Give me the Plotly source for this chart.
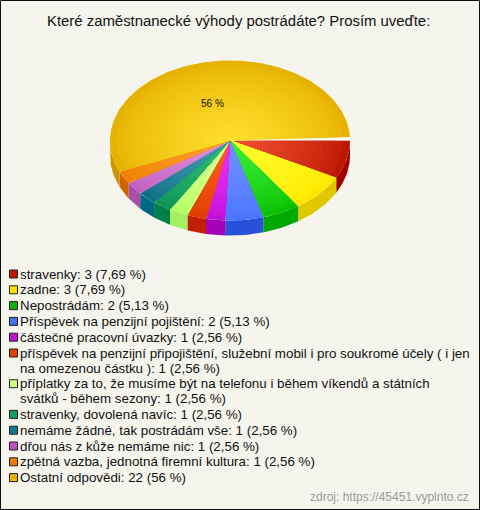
import math
import plotly.graph_objects as go

title_text = "Které zaměstnanecké výhody postrádáte? Prosím uveďte:"
legend_labels = [
    ["stravenky: 3 (7,69 %)"],
    ["zadne: 3 (7,69 %)"],
    ["Nepostrádám: 2 (5,13 %)"],
    ["Příspěvek na penzijní pojištění: 2 (5,13 %)"],
    ["částečné pracovní úvazky: 1 (2,56 %)"],
    ["příspěvek na penzijní připojištění, služební mobil i pro soukromé účely ( i jen", "na omezenou částku ): 1 (2,56 %)"],
    ["příplatky za to, že musíme být na telefonu i během víkendů a státních", "svátků - během sezony: 1 (2,56 %)"],
    ["stravenky, dovolená navíc: 1 (2,56 %)"],
    ["nemáme žádné, tak postrádám vše: 1 (2,56 %)"],
    ["dřou nás z kůže nemáme nic: 1 (2,56 %)"],
    ["zpětná vazba, jednotná firemní kultura: 1 (2,56 %)"],
    ["Ostatní odpovědi: 22 (56 %)"],
]
values = [3, 3, 2, 2, 1, 1, 1, 1, 1, 1, 1, 22]
outer_colors = ["#bc1800", "#ffe800", "#0cc000", "#4a74ff", "#c010d8", "#e03c00", "#b8ff68", "#109458", "#107088", "#c060c0", "#f08000", "#e6b200"]
inner_colors = ["#f05030", "#ffff30", "#38f038", "#7090ff", "#f030f8", "#ff6020", "#d8ff90", "#30c070", "#40a0b0", "#e090e0", "#ffa030", "#ffde2c"]
side_colors = ["#a00000", "#e0c800", "#00a800", "#2850d8", "#a800b8", "#c02000", "#a0f060", "#008048", "#006880", "#a850a8", "#d06000", "#c89800"]
legend_colors = ["#c01800", "#ffe000", "#10b010", "#4070f0", "#c010d0", "#e84000", "#c8ff80", "#10a060", "#107890", "#c050c0", "#f07800", "#e8b000"]

CX, CY, RX, RY, DEPTH = 230, 140.5, 120, 80, 15
BG = "#f5f5ee"

def hex_mix(a, b, t):
    ca = [int(a[i:i + 2], 16) for i in (1, 3, 5)]
    cb = [int(b[i:i + 2], 16) for i in (1, 3, 5)]
    return "#%02x%02x%02x" % tuple(round(x + (y - x) * t) for x, y in zip(ca, cb))

def arc(a0, a1, scale=1.0, dy=0.0):
    n = max(2, int(abs(a1 - a0) / 1.5))
    xs, ys = [], []
    for i in range(n + 1):
        t = math.radians(a0 + (a1 - a0) * i / n)
        xs.append(CX + RX * scale * math.cos(t))
        ys.append(CY + dy + RY * scale * math.sin(t))
    return xs, ys

fig = go.Figure()

def poly(xs, ys, color):
    fig.add_trace(go.Scatter(x=xs, y=ys, mode="lines", fill="toself", fillcolor=color,
                             line=dict(width=0, color=color), hoverinfo="skip", showlegend=False))

total = sum(values)
spans = []
acc = 0
for v in values:
    spans.append((acc / total * 360, (acc + v) / total * 360))
    acc += v

for (a0, a1), c in zip(spans, side_colors):
    lo, hi = max(a0, 0), min(a1, 180)
    if hi > lo:
        x1, y1 = arc(lo, hi)
        x2, y2 = arc(hi, lo, dy=DEPTH)
        poly(x1 + x2, y1 + y2, c)

LAYERS = 18
GAP = 2.4
for i, ((a0, a1), co, ci) in enumerate(zip(spans, outer_colors, inner_colors)):
    if i == len(values) - 1:
        a1 -= GAP
    for k in range(LAYERS):
        s = 1 - k / LAYERS
        x, y = arc(a0, a1, s)
        poly([CX] + x + [CX], [CY] + y + [CY], hex_mix(co, ci, (k / (LAYERS - 1)) ** 0.75))

xg, yg = arc(360 - GAP, 360)
poly([CX] + xg + [CX], [CY] + yg + [CY], "#fbfbf6")

annotations = [
    dict(x=238, y=21, text=title_text, font=dict(size=14.9, color="#111111")),
    dict(x=212, y=103, text="56 %", font=dict(size=10, color="#111111")),
    dict(x=471, y=497, text="zdroj: https://45451.vyplnto.cz", xanchor="right",
         font=dict(size=12, color="#9a9a9a")),
]
shapes = [dict(type="rect", x0=0.5, y0=0.5, x1=479.5, y1=509.5, line=dict(color="#111111", width=1), layer="below")]

y = 274
for lines, c in zip(legend_labels, legend_colors):
    shapes.append(dict(type="rect", x0=9.5, x1=17.5, y0=y - 4, y1=y + 4, fillcolor=c,
                       line=dict(color="#222222", width=1)))
    for j, line in enumerate(lines):
        annotations.append(dict(x=17.5, y=y + j * 15, text=line, xanchor="left", align="left",
                                font=dict(size=13.33, color="#111111")))
    y += 15.8 + (len(lines) - 1) * 14.9

for a in annotations:
    a.update(showarrow=False, xref="x", yref="y", font=dict(family="Liberation Sans, Arial", **a["font"]))
    a.setdefault("xanchor", "center")
    a["yanchor"] = "middle"

fig.update_layout(
    width=480, height=510, margin=dict(l=0, r=0, t=0, b=0), autosize=False,
    paper_bgcolor=BG, plot_bgcolor=BG, showlegend=False,
    xaxis=dict(range=[0, 480], visible=False, fixedrange=True),
    yaxis=dict(range=[510, 0], visible=False, fixedrange=True),
    annotations=annotations, shapes=shapes,
)
fig.write_html("out.html", config=dict(displayModeBar=False),
               post_script="document.body.style.margin='0';document.body.style.overflow='hidden';")
